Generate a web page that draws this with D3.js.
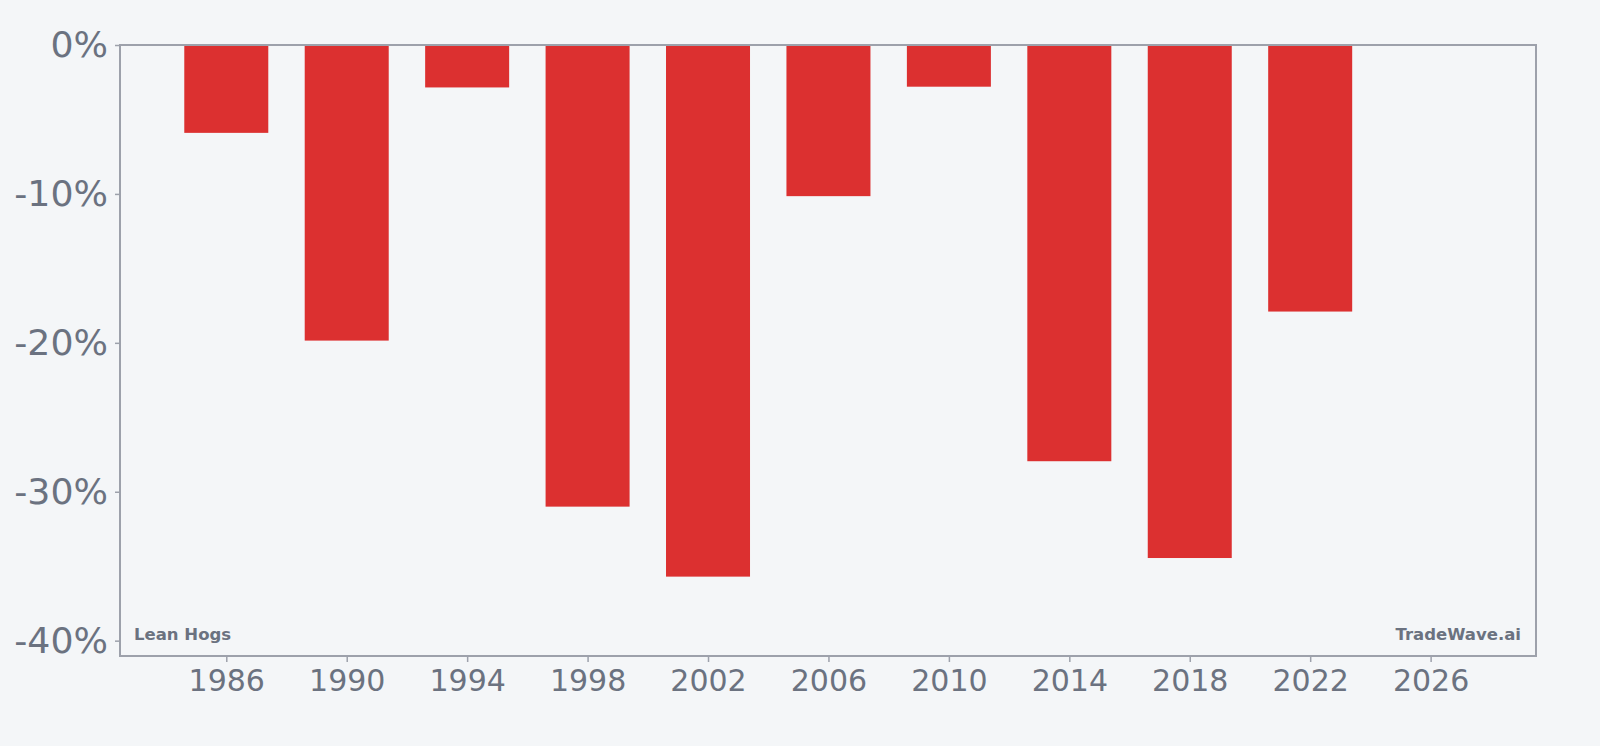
<!DOCTYPE html>
<html>
<head>
<meta charset="utf-8">
<style>
    body { margin: 0; background: #f4f6f8; }
    svg { display: block; }
</style>
</head>
<body>
    <div id="chart"></div>

    <script src="https://d3js.org/d3.v7.min.js"></script>
    <script type="text/javascript">
        // yearly change, Lean Hogs
        var years = [1986, 1990, 1994, 1998, 2002, 2006, 2010, 2014, 2018, 2022];
        var changes = [-5.9, -19.85, -2.85, -31.0, -35.7, -10.15, -2.8, -27.95, -34.45, -17.9];
        var xTicks = [1986, 1990, 1994, 1998, 2002, 2006, 2010, 2014, 2018, 2022, 2026];
        var yTicks = [0, -10, -20, -30, -40];

        var w = 1600;
        var h = 746;
        var m = { top: 45, right: 64, bottom: 90, left: 120 };

        var svg = d3.select('#chart')
            .append('svg')
            .attr('width', w)
            .attr('height', h);

        var x = d3.scaleLinear()
            .domain([1982.47, 2029.5])
            .range([m.left, w - m.right]);

        var y = d3.scaleLinear()
            .domain([-41.03, 0])
            .range([h - m.bottom, m.top]);

        var barW = x(1982.47 + 2.79) - x(1982.47);

        svg.append('g')
            .selectAll('rect')
            .data(years)
            .enter()
            .append('rect')
            .attr('x', function (d) { return x(d) - barW / 2; })
            .attr('y', y(0))
            .attr('width', barW)
            .attr('height', function (d, i) { return y(changes[i]) - y(0); })
            .attr('fill', '#dc3030');

        // frame
        svg.append('rect')
            .attr('x', m.left)
            .attr('y', m.top)
            .attr('width', w - m.left - m.right)
            .attr('height', h - m.top - m.bottom)
            .attr('fill', 'none')
            .attr('stroke', '#9da1ab')
            .attr('stroke-width', 2);

        var xAxis = svg.append('g')
            .attr('transform', 'translate(0,' + (h - m.bottom) + ')')
            .call(d3.axisBottom(x).tickValues(xTicks).tickFormat(d3.format('d')).tickSize(6).tickPadding(8));

        var yAxis = svg.append('g')
            .attr('transform', 'translate(' + m.left + ',0)')
            .call(d3.axisLeft(y).tickValues(yTicks).tickFormat(function (d) { return d + '%'; }).tickSize(5).tickPadding(7));

        [xAxis, yAxis].forEach(function (g) {
            g.select('.domain').remove();
            g.selectAll('line').attr('stroke', '#9da1ab').attr('stroke-width', 1.5);
            g.selectAll('text')
                .attr('fill', '#6b7280')
                .style('font-family', 'DejaVu Sans');
        });
        xAxis.selectAll('text').style('font-size', '30px');
        yAxis.selectAll('text').style('font-size', '36.3px');

        svg.append('text')
            .text('Lean Hogs')
            .attr('x', m.left + 14)
            .attr('y', h - m.bottom - 16)
            .attr('fill', '#6b7280')
            .style('font-family', 'DejaVu Sans')
            .style('font-weight', 'bold')
            .style('font-size', '16.5px');

        svg.append('text')
            .text('TradeWave.ai')
            .attr('x', w - m.right - 15)
            .attr('y', h - m.bottom - 16)
            .attr('text-anchor', 'end')
            .attr('fill', '#6b7280')
            .style('font-family', 'DejaVu Sans')
            .style('font-weight', 'bold')
            .style('font-size', '16.5px');
    </script>
</body>
</html>
